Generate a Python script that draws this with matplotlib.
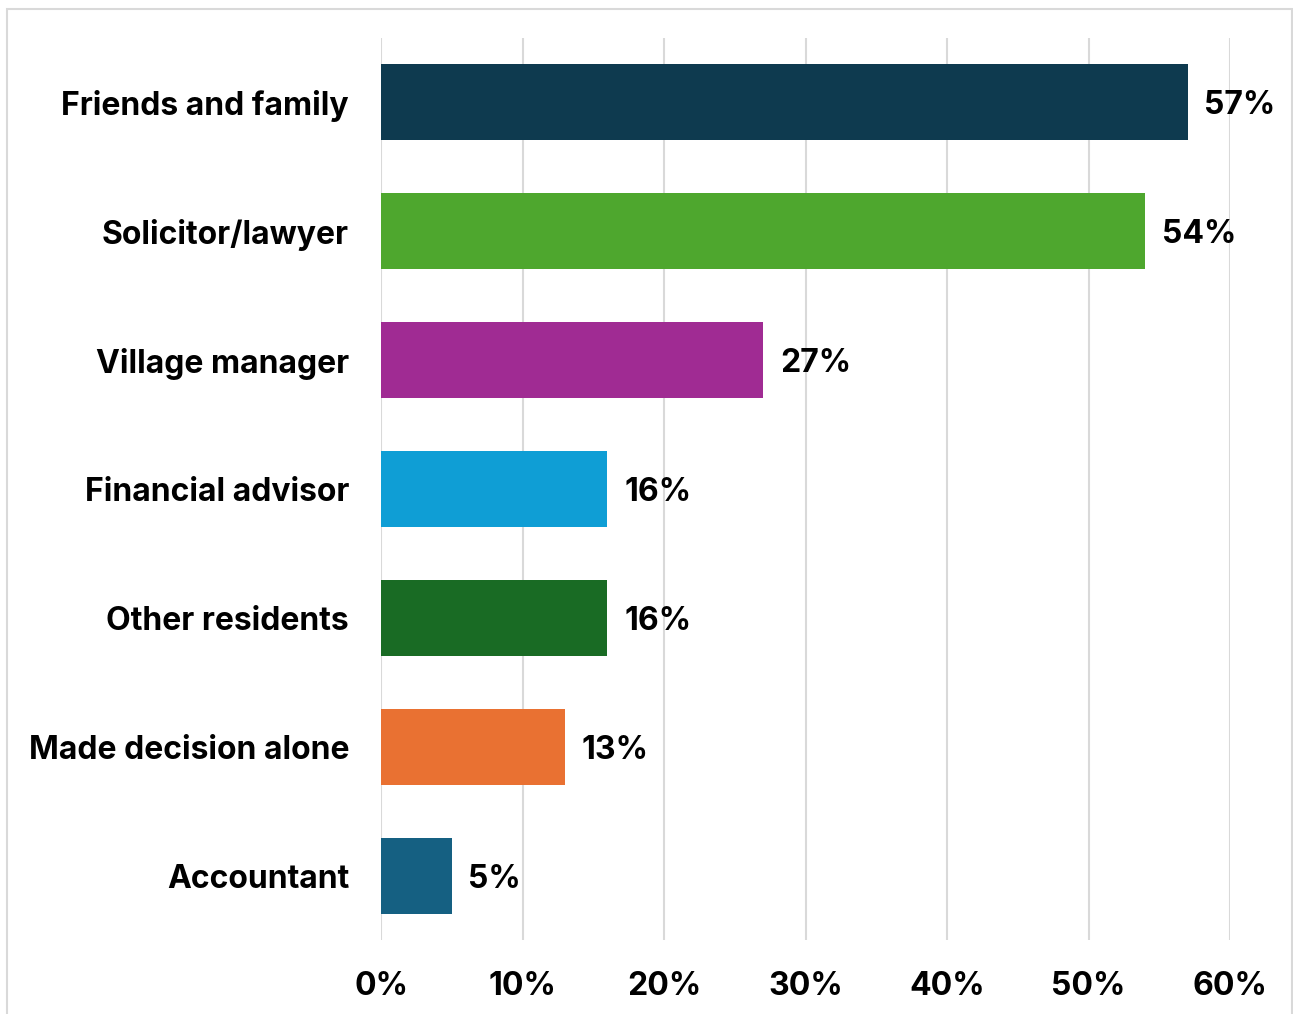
import matplotlib
matplotlib.use("Agg")
import matplotlib.pyplot as plt
import matplotlib.patches as patches
from matplotlib.ticker import FuncFormatter

plt.rcParams['font.family'] = ['Inter', 'DejaVu Sans']
plt.rcParams['font.weight'] = 'bold'

labels = ['Friends and family', 'Solicitor/lawyer', 'Village manager', 'Financial advisor',
          'Other residents', 'Made decision alone', 'Accountant']
values = [57, 54, 27, 16, 16, 13, 5]
colors = ['#0E3A4F', '#4EA72E', '#A02B93', '#0F9ED5', '#196B24', '#E97132', '#156082']

fig = plt.figure(figsize=(12.93, 10.14), dpi=100)
ax = fig.add_axes([0.2947, 0.073, 0.6566, 0.8895])

y = list(range(len(labels)))
bars = ax.barh(y, values, height=0.59, color=colors, zorder=3)

ax.set_xlim(0, 60)
ax.set_ylim(len(labels) - 0.5, -0.5)
ax.set_xticks(range(0, 61, 10))
ax.xaxis.set_major_formatter(FuncFormatter(lambda v, p: '{:.0f}%'.format(v)))
ax.set_yticks(y)
ax.set_yticklabels(labels, va='center_baseline')
ax.tick_params(axis='both', length=0, labelsize=23)
ax.tick_params(axis='x', pad=22)
ax.tick_params(axis='y', pad=23)
ax.grid(axis='x', color='#D9D9D9', linewidth=1.5, zorder=0)
for s in ax.spines.values():
    s.set_visible(False)

for rect, v in zip(bars, values):
    ax.annotate('{}%'.format(v),
                xy=(rect.get_width(), rect.get_y() + rect.get_height() / 2),
                xytext=(12, 0), textcoords='offset points',
                ha='left', va='center_baseline', fontsize=23, fontweight='bold')

# outer chart border
fig.patches.append(patches.Rectangle((7 / 1293, -0.01), 1285 / 1293, 1 - 9 / 1014 + 0.01,
                                     transform=fig.transFigure, fill=False,
                                     edgecolor='#D9D9D9', linewidth=1.5))

plt.savefig('out.png', dpi=100)
